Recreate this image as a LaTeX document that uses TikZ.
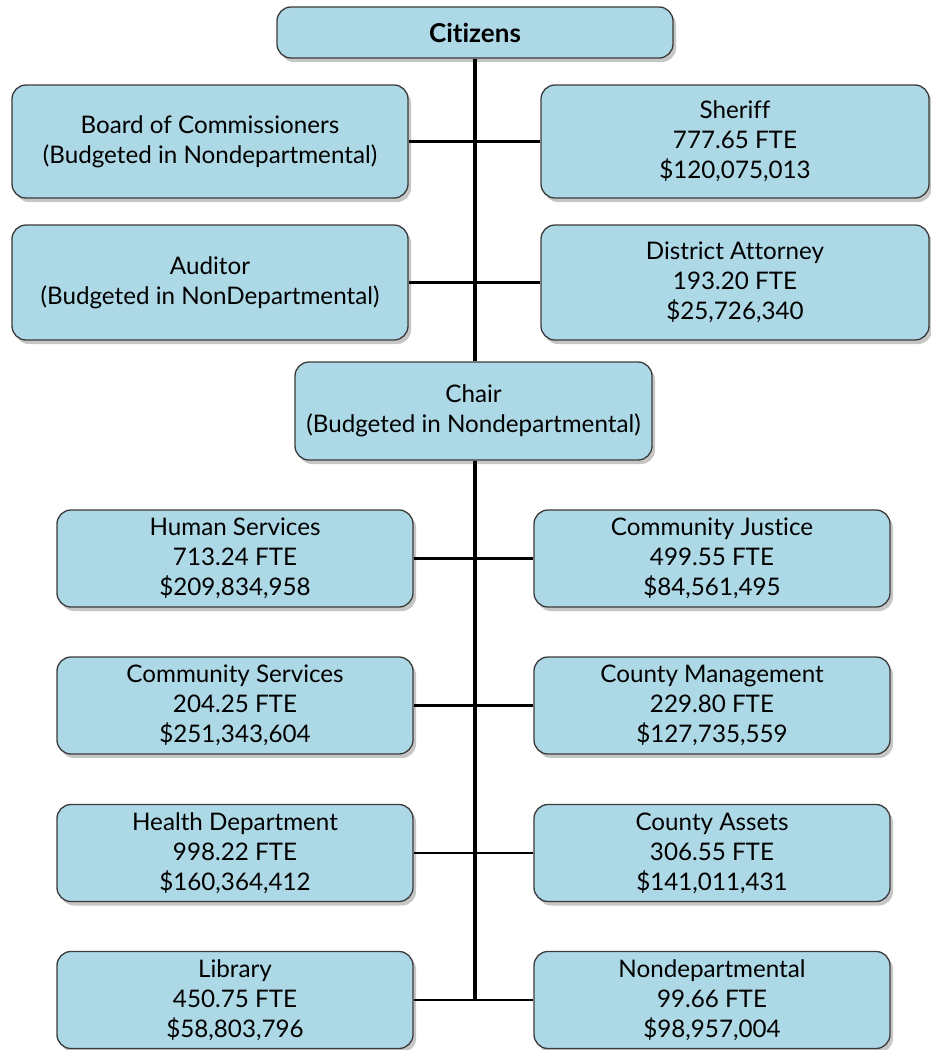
\documentclass[tikz,border=0pt]{standalone}
\usepackage{fontspec}
\setmainfont{Lato}[Ligatures = NoCommon]
\usetikzlibrary{shadows}
\definecolor{boxblue}{HTML}{ADD8E6}
\definecolor{boxline}{HTML}{3A3A3A}

\begin{document}
\begin{tikzpicture}[x = 1pt, y = -1pt,
		unit/.style = {draw = boxline, line width = 1.3pt, fill = boxblue,
			rounded corners = 14pt, align = center, inner sep = 0pt,
			font = \fontsize{24.2}{30}\selectfont,
			drop shadow = {opacity = 0.45, shadow xshift = 3pt, shadow yshift = -4pt}},
		trunk/.style = {line width = 3.2pt},
		branch/.style = {line width = 2.8pt}]
		\useasboundingbox (0, 0) rectangle (930, 1050);
		%%%%%%%%%%%%%
		\node [unit, minimum width = 396pt, minimum height = 51pt,
			font = \fontsize{26}{30}\selectfont\bfseries] (cit) at (475, 32.5) {Citizens};
		\node [unit, minimum width = 396pt, minimum height = 113pt] (board) at (210, 141.5)
			{Board of Commissioners\\(Budgeted in Nondepartmental)};
		\node [unit, minimum width = 388pt, minimum height = 113pt] (sher) at (735, 141.5)
			{Sheriff\\777.65 FTE\\\$120,075,013};
		\node [unit, minimum width = 396pt, minimum height = 115pt] (aud) at (210, 282.5)
			{Auditor\\(Budgeted in NonDepartmental)};
		\node [unit, minimum width = 388pt, minimum height = 115pt] (da) at (735, 282.5)
			{District Attorney\\193.20 FTE\\\$25,726,340};
		\node [unit, minimum width = 357pt, minimum height = 98pt] (chair) at (473.5, 411)
			{Chair\\(Budgeted in Nondepartmental)};
		%%%%%%%%%%%%%
		\node [unit, minimum width = 356pt, minimum height = 97pt] (hs) at (235, 558.5)
			{Human Services\\713.24 FTE\\\$209,834,958};
		\node [unit, minimum width = 356pt, minimum height = 97pt] (cj) at (712, 558.5)
			{Community Justice\\499.55 FTE\\\$84,561,495};
		\node [unit, minimum width = 356pt, minimum height = 97pt] (cs) at (235, 705.5)
			{Community Services\\204.25 FTE\\\$251,343,604};
		\node [unit, minimum width = 356pt, minimum height = 97pt] (cm) at (712, 705.5)
			{County Management\\229.80 FTE\\\$127,735,559};
		\node [unit, minimum width = 356pt, minimum height = 97pt] (hd) at (235, 853)
			{Health Department\\998.22 FTE\\\$160,364,412};
		\node [unit, minimum width = 356pt, minimum height = 97pt] (ca) at (712, 853)
			{County Assets\\306.55 FTE\\\$141,011,431};
		\node [unit, minimum width = 356pt, minimum height = 97pt] (lib) at (235, 1000)
			{Library\\450.75 FTE\\\$58,803,796};
		\node [unit, minimum width = 356pt, minimum height = 97pt] (nd) at (712, 1000)
			{Nondepartmental\\99.66 FTE\\\$98,957,004};
		\coordinate (end) at (475, 1001);
		%%%%%%%%%%%%%
		\draw [trunk] (cit.south -| end) to (chair.north -| end);
		\draw [trunk] (chair.south -| end) to (end);
		\draw [branch] (board) to (sher); \draw [branch] (aud) to (da);
		\draw [branch] (hs) to (cj); \draw [branch] (cs) to (cm);
		\draw [branch] (hd) to (ca); \draw [branch] (lib) to (nd);
\end{tikzpicture}
\end{document}
